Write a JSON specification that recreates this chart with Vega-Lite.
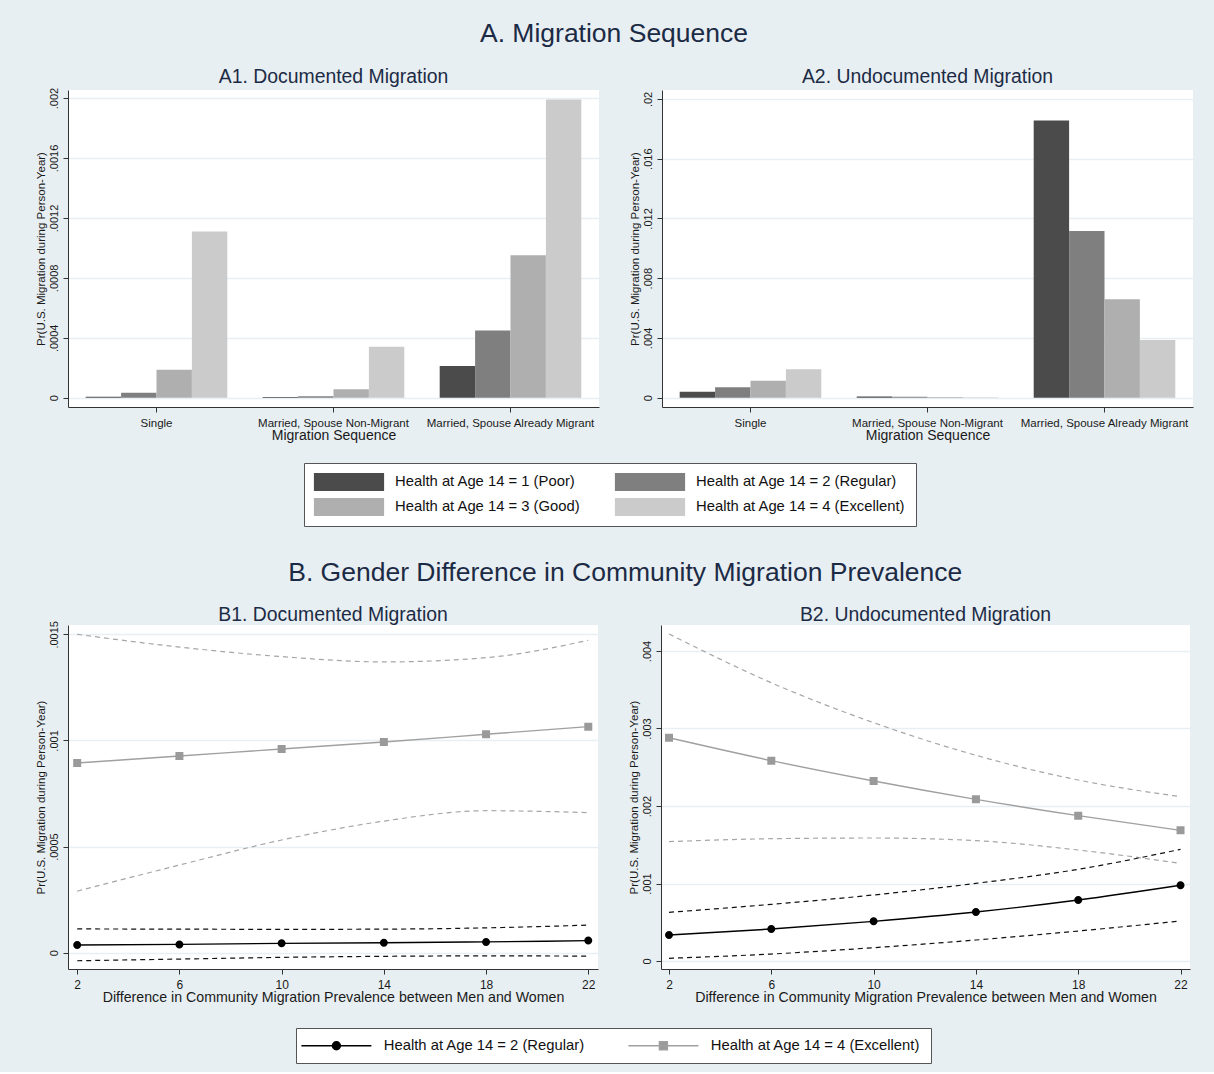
{
  "$schema": "https://vega.github.io/schema/vega-lite/v6.json",
  "autosize": {"type": "pad"},
  "padding": {"left": 34, "top": 21, "right": 18, "bottom": 8},
  "spacing": 33,
  "datasets": {
    "bars": [
      {"panel": "A1", "seq": "Single", "health": "Health at Age 14 = 1 (Poor)", "p": 0.000007},
      {"panel": "A1", "seq": "Single", "health": "Health at Age 14 = 2 (Regular)", "p": 0.000033},
      {"panel": "A1", "seq": "Single", "health": "Health at Age 14 = 3 (Good)", "p": 0.000186},
      {"panel": "A1", "seq": "Single", "health": "Health at Age 14 = 4 (Excellent)", "p": 0.00111},
      {"panel": "A1", "seq": "Married, Spouse Non-Migrant", "health": "Health at Age 14 = 1 (Poor)", "p": 0.000005},
      {"panel": "A1", "seq": "Married, Spouse Non-Migrant", "health": "Health at Age 14 = 2 (Regular)", "p": 0.00001},
      {"panel": "A1", "seq": "Married, Spouse Non-Migrant", "health": "Health at Age 14 = 3 (Good)", "p": 0.000057},
      {"panel": "A1", "seq": "Married, Spouse Non-Migrant", "health": "Health at Age 14 = 4 (Excellent)", "p": 0.000341},
      {"panel": "A1", "seq": "Married, Spouse Already Migrant", "health": "Health at Age 14 = 1 (Poor)", "p": 0.000212},
      {"panel": "A1", "seq": "Married, Spouse Already Migrant", "health": "Health at Age 14 = 2 (Regular)", "p": 0.000449},
      {"panel": "A1", "seq": "Married, Spouse Already Migrant", "health": "Health at Age 14 = 3 (Good)", "p": 0.000951},
      {"panel": "A1", "seq": "Married, Spouse Already Migrant", "health": "Health at Age 14 = 4 (Excellent)", "p": 0.00199},
      {"panel": "A2", "seq": "Single", "health": "Health at Age 14 = 1 (Poor)", "p": 0.0004},
      {"panel": "A2", "seq": "Single", "health": "Health at Age 14 = 2 (Regular)", "p": 0.0007},
      {"panel": "A2", "seq": "Single", "health": "Health at Age 14 = 3 (Good)", "p": 0.00114},
      {"panel": "A2", "seq": "Single", "health": "Health at Age 14 = 4 (Excellent)", "p": 0.0019},
      {"panel": "A2", "seq": "Married, Spouse Non-Migrant", "health": "Health at Age 14 = 1 (Poor)", "p": 0.00008},
      {"panel": "A2", "seq": "Married, Spouse Non-Migrant", "health": "Health at Age 14 = 2 (Regular)", "p": 0.00007},
      {"panel": "A2", "seq": "Married, Spouse Non-Migrant", "health": "Health at Age 14 = 3 (Good)", "p": 0.00004},
      {"panel": "A2", "seq": "Married, Spouse Non-Migrant", "health": "Health at Age 14 = 4 (Excellent)", "p": 0.00003},
      {"panel": "A2", "seq": "Married, Spouse Already Migrant", "health": "Health at Age 14 = 1 (Poor)", "p": 0.01855},
      {"panel": "A2", "seq": "Married, Spouse Already Migrant", "health": "Health at Age 14 = 2 (Regular)", "p": 0.01116},
      {"panel": "A2", "seq": "Married, Spouse Already Migrant", "health": "Health at Age 14 = 3 (Good)", "p": 0.00659},
      {"panel": "A2", "seq": "Married, Spouse Already Migrant", "health": "Health at Age 14 = 4 (Excellent)", "p": 0.00386}
    ],
    "lines": [
      {"panel": "B1", "series": "Health at Age 14 = 2 (Regular)", "bound": "est", "x": 2, "p": 0.000036},
      {"panel": "B1", "series": "Health at Age 14 = 2 (Regular)", "bound": "est", "x": 6, "p": 0.000039},
      {"panel": "B1", "series": "Health at Age 14 = 2 (Regular)", "bound": "est", "x": 10, "p": 0.000044},
      {"panel": "B1", "series": "Health at Age 14 = 2 (Regular)", "bound": "est", "x": 14, "p": 0.000047},
      {"panel": "B1", "series": "Health at Age 14 = 2 (Regular)", "bound": "est", "x": 18, "p": 0.000051},
      {"panel": "B1", "series": "Health at Age 14 = 2 (Regular)", "bound": "est", "x": 22, "p": 0.000057},
      {"panel": "B1", "series": "Health at Age 14 = 2 (Regular)", "bound": "lo", "x": 2, "p": -0.000038},
      {"panel": "B1", "series": "Health at Age 14 = 2 (Regular)", "bound": "lo", "x": 6, "p": -0.00003},
      {"panel": "B1", "series": "Health at Age 14 = 2 (Regular)", "bound": "lo", "x": 10, "p": -0.000022},
      {"panel": "B1", "series": "Health at Age 14 = 2 (Regular)", "bound": "lo", "x": 14, "p": -0.000017},
      {"panel": "B1", "series": "Health at Age 14 = 2 (Regular)", "bound": "lo", "x": 18, "p": -0.000015},
      {"panel": "B1", "series": "Health at Age 14 = 2 (Regular)", "bound": "lo", "x": 22, "p": -0.000016},
      {"panel": "B1", "series": "Health at Age 14 = 2 (Regular)", "bound": "hi", "x": 2, "p": 0.000112},
      {"panel": "B1", "series": "Health at Age 14 = 2 (Regular)", "bound": "hi", "x": 6, "p": 0.000111},
      {"panel": "B1", "series": "Health at Age 14 = 2 (Regular)", "bound": "hi", "x": 10, "p": 0.00011},
      {"panel": "B1", "series": "Health at Age 14 = 2 (Regular)", "bound": "hi", "x": 14, "p": 0.000111},
      {"panel": "B1", "series": "Health at Age 14 = 2 (Regular)", "bound": "hi", "x": 18, "p": 0.000117},
      {"panel": "B1", "series": "Health at Age 14 = 2 (Regular)", "bound": "hi", "x": 22, "p": 0.00013},
      {"panel": "B1", "series": "Health at Age 14 = 4 (Excellent)", "bound": "est", "x": 2, "p": 0.000894},
      {"panel": "B1", "series": "Health at Age 14 = 4 (Excellent)", "bound": "est", "x": 6, "p": 0.000927},
      {"panel": "B1", "series": "Health at Age 14 = 4 (Excellent)", "bound": "est", "x": 10, "p": 0.00096},
      {"panel": "B1", "series": "Health at Age 14 = 4 (Excellent)", "bound": "est", "x": 14, "p": 0.000993},
      {"panel": "B1", "series": "Health at Age 14 = 4 (Excellent)", "bound": "est", "x": 18, "p": 0.001029},
      {"panel": "B1", "series": "Health at Age 14 = 4 (Excellent)", "bound": "est", "x": 22, "p": 0.001065},
      {"panel": "B1", "series": "Health at Age 14 = 4 (Excellent)", "bound": "lo", "x": 2, "p": 0.00029},
      {"panel": "B1", "series": "Health at Age 14 = 4 (Excellent)", "bound": "lo", "x": 6, "p": 0.000413},
      {"panel": "B1", "series": "Health at Age 14 = 4 (Excellent)", "bound": "lo", "x": 10, "p": 0.000531},
      {"panel": "B1", "series": "Health at Age 14 = 4 (Excellent)", "bound": "lo", "x": 14, "p": 0.00062},
      {"panel": "B1", "series": "Health at Age 14 = 4 (Excellent)", "bound": "lo", "x": 18, "p": 0.000669},
      {"panel": "B1", "series": "Health at Age 14 = 4 (Excellent)", "bound": "lo", "x": 22, "p": 0.00066},
      {"panel": "B1", "series": "Health at Age 14 = 4 (Excellent)", "bound": "hi", "x": 2, "p": 0.0015},
      {"panel": "B1", "series": "Health at Age 14 = 4 (Excellent)", "bound": "hi", "x": 6, "p": 0.00144},
      {"panel": "B1", "series": "Health at Age 14 = 4 (Excellent)", "bound": "hi", "x": 10, "p": 0.001395},
      {"panel": "B1", "series": "Health at Age 14 = 4 (Excellent)", "bound": "hi", "x": 14, "p": 0.00137},
      {"panel": "B1", "series": "Health at Age 14 = 4 (Excellent)", "bound": "hi", "x": 18, "p": 0.00139},
      {"panel": "B1", "series": "Health at Age 14 = 4 (Excellent)", "bound": "hi", "x": 22, "p": 0.001472},
      {"panel": "B2", "series": "Health at Age 14 = 2 (Regular)", "bound": "est", "x": 2, "p": 0.000335},
      {"panel": "B2", "series": "Health at Age 14 = 2 (Regular)", "bound": "est", "x": 6, "p": 0.000413},
      {"panel": "B2", "series": "Health at Age 14 = 2 (Regular)", "bound": "est", "x": 10, "p": 0.000512},
      {"panel": "B2", "series": "Health at Age 14 = 2 (Regular)", "bound": "est", "x": 14, "p": 0.000632},
      {"panel": "B2", "series": "Health at Age 14 = 2 (Regular)", "bound": "est", "x": 18, "p": 0.000787},
      {"panel": "B2", "series": "Health at Age 14 = 2 (Regular)", "bound": "est", "x": 22, "p": 0.000977},
      {"panel": "B2", "series": "Health at Age 14 = 2 (Regular)", "bound": "lo", "x": 2, "p": 0.000035},
      {"panel": "B2", "series": "Health at Age 14 = 2 (Regular)", "bound": "lo", "x": 6, "p": 0.00009},
      {"panel": "B2", "series": "Health at Age 14 = 2 (Regular)", "bound": "lo", "x": 10, "p": 0.000172},
      {"panel": "B2", "series": "Health at Age 14 = 2 (Regular)", "bound": "lo", "x": 14, "p": 0.000271},
      {"panel": "B2", "series": "Health at Age 14 = 2 (Regular)", "bound": "lo", "x": 18, "p": 0.000387},
      {"panel": "B2", "series": "Health at Age 14 = 2 (Regular)", "bound": "lo", "x": 22, "p": 0.000516},
      {"panel": "B2", "series": "Health at Age 14 = 2 (Regular)", "bound": "hi", "x": 2, "p": 0.000628},
      {"panel": "B2", "series": "Health at Age 14 = 2 (Regular)", "bound": "hi", "x": 6, "p": 0.000731},
      {"panel": "B2", "series": "Health at Age 14 = 2 (Regular)", "bound": "hi", "x": 10, "p": 0.000852},
      {"panel": "B2", "series": "Health at Age 14 = 2 (Regular)", "bound": "hi", "x": 14, "p": 0.001002},
      {"panel": "B2", "series": "Health at Age 14 = 2 (Regular)", "bound": "hi", "x": 18, "p": 0.001183},
      {"panel": "B2", "series": "Health at Age 14 = 2 (Regular)", "bound": "hi", "x": 22, "p": 0.001441},
      {"panel": "B2", "series": "Health at Age 14 = 4 (Excellent)", "bound": "est", "x": 2, "p": 0.00288},
      {"panel": "B2", "series": "Health at Age 14 = 4 (Excellent)", "bound": "est", "x": 6, "p": 0.002585},
      {"panel": "B2", "series": "Health at Age 14 = 4 (Excellent)", "bound": "est", "x": 10, "p": 0.002323},
      {"panel": "B2", "series": "Health at Age 14 = 4 (Excellent)", "bound": "est", "x": 14, "p": 0.002086},
      {"panel": "B2", "series": "Health at Age 14 = 4 (Excellent)", "bound": "est", "x": 18, "p": 0.001875},
      {"panel": "B2", "series": "Health at Age 14 = 4 (Excellent)", "bound": "est", "x": 22, "p": 0.001686},
      {"panel": "B2", "series": "Health at Age 14 = 4 (Excellent)", "bound": "lo", "x": 2, "p": 0.00154},
      {"panel": "B2", "series": "Health at Age 14 = 4 (Excellent)", "bound": "lo", "x": 6, "p": 0.001578},
      {"panel": "B2", "series": "Health at Age 14 = 4 (Excellent)", "bound": "lo", "x": 10, "p": 0.001587},
      {"panel": "B2", "series": "Health at Age 14 = 4 (Excellent)", "bound": "lo", "x": 14, "p": 0.001553},
      {"panel": "B2", "series": "Health at Age 14 = 4 (Excellent)", "bound": "lo", "x": 18, "p": 0.001432},
      {"panel": "B2", "series": "Health at Age 14 = 4 (Excellent)", "bound": "lo", "x": 22, "p": 0.00126},
      {"panel": "B2", "series": "Health at Age 14 = 4 (Excellent)", "bound": "hi", "x": 2, "p": 0.00422},
      {"panel": "B2", "series": "Health at Age 14 = 4 (Excellent)", "bound": "hi", "x": 6, "p": 0.00359},
      {"panel": "B2", "series": "Health at Age 14 = 4 (Excellent)", "bound": "hi", "x": 10, "p": 0.003075},
      {"panel": "B2", "series": "Health at Age 14 = 4 (Excellent)", "bound": "hi", "x": 14, "p": 0.002654},
      {"panel": "B2", "series": "Health at Age 14 = 4 (Excellent)", "bound": "hi", "x": 18, "p": 0.002335},
      {"panel": "B2", "series": "Health at Age 14 = 4 (Excellent)", "bound": "hi", "x": 22, "p": 0.00212}
    ]
  },
  "resolve": {"scale": {"x": "independent", "y": "independent"}},
  "vconcat": [
    {
      "title": {"text": "A. Migration Sequence", "fontSize": 26.5, "offset": 19},
      "bounds": "flush",
      "spacing": 63,
      "resolve": {"scale": {"x": "independent", "y": "independent"}, "legend": {"color": "independent"}},
      "hconcat": [
        {
          "width": 531,
          "height": 317,
          "title": {"text": "A1. Documented Migration", "fontSize": 19.4, "offset": 0},
          "data": {"name": "bars"},
          "transform": [{"filter": "datum.panel == 'A1'"}],
          "mark": {"type": "bar"},
          "encoding": {
            "x": {
              "field": "seq", "type": "nominal",
              "sort": ["Single", "Married, Spouse Non-Migrant", "Married, Spouse Already Migrant"],
              "scale": {"paddingInner": 0.2, "paddingOuter": 0.1},
              "axis": {"title": "Migration Sequence", "labelAngle": 0, "labelFontSize": 11.5, "titleFontSize": 14, "titlePadding": 0, "labelPadding": 5, "grid": false}
            },
            "xOffset": {
              "field": "health", "type": "nominal",
              "sort": ["Health at Age 14 = 1 (Poor)", "Health at Age 14 = 2 (Regular)", "Health at Age 14 = 3 (Good)", "Health at Age 14 = 4 (Excellent)"],
              "scale": {"paddingInner": 0, "paddingOuter": 0}
            },
            "y": {
              "field": "p", "type": "quantitative", "stack": null,
              "scale": {"domain": [-0.000062, 0.002054], "nice": false, "zero": false},
              "axis": {"title": "Pr(U.S. Migration during Person-Year)", "values": [0, 0.0004, 0.0008, 0.0012, 0.0016, 0.002], "labelExpr": "datum.value == 0 ? '0' : replace(toString(datum.value), '0.', '.')"}
            },
            "color": {
              "field": "health", "type": "nominal",
              "scale": {"domain": ["Health at Age 14 = 1 (Poor)", "Health at Age 14 = 2 (Regular)", "Health at Age 14 = 3 (Good)", "Health at Age 14 = 4 (Excellent)"], "range": ["#4b4b4b", "#7f7f7f", "#afafaf", "#cbcbcb"]},
              "legend": {
                "orient": "none", "legendX": 236, "legendY": 373, "title": null, "columns": 2, "direction": "horizontal",
                "fillColor": "white", "strokeColor": "#555555", "padding": 10,
                "symbolType": "M-3.9,-1H3.9V1H-3.9Z", "symbolSize": 324, "symbolStrokeWidth": 0, "symbolOpacity": 1,
                "symbolOffset": 26, "labelOffset": 37, "labelFontSize": 14.8, "labelColor": "#111111",
                "rowPadding": 7, "columnPadding": 33, "labelLimit": 400
              }
            }
          }
        },
        {
          "width": 531,
          "height": 317,
          "title": {"text": "A2. Undocumented Migration", "fontSize": 19.4, "offset": 3},
          "data": {"name": "bars"},
          "transform": [{"filter": "datum.panel == 'A2'"}],
          "mark": {"type": "bar"},
          "encoding": {
            "x": {
              "field": "seq", "type": "nominal",
              "sort": ["Single", "Married, Spouse Non-Migrant", "Married, Spouse Already Migrant"],
              "scale": {"paddingInner": 0.2, "paddingOuter": 0.1},
              "axis": {"title": "Migration Sequence", "labelAngle": 0, "labelFontSize": 11.5, "titleFontSize": 14, "titlePadding": 0, "labelPadding": 5, "grid": false}
            },
            "xOffset": {
              "field": "health", "type": "nominal",
              "sort": ["Health at Age 14 = 1 (Poor)", "Health at Age 14 = 2 (Regular)", "Health at Age 14 = 3 (Good)", "Health at Age 14 = 4 (Excellent)"],
              "scale": {"paddingInner": 0, "paddingOuter": 0}
            },
            "y": {
              "field": "p", "type": "quantitative", "stack": null,
              "scale": {"domain": [-0.000623, 0.0206], "nice": false, "zero": false},
              "axis": {"title": "Pr(U.S. Migration during Person-Year)", "values": [0, 0.004, 0.008, 0.012, 0.016, 0.02], "labelExpr": "datum.value == 0 ? '0' : replace(toString(datum.value), '0.', '.')"}
            },
            "color": {
              "field": "health", "type": "nominal",
              "scale": {"domain": ["Health at Age 14 = 1 (Poor)", "Health at Age 14 = 2 (Regular)", "Health at Age 14 = 3 (Good)", "Health at Age 14 = 4 (Excellent)"], "range": ["#4b4b4b", "#7f7f7f", "#afafaf", "#cbcbcb"]},
              "legend": null
            }
          }
        }
      ]
    },
    {
      "title": {"text": "B. Gender Difference in Community Migration Prevalence", "fontSize": 26.5, "offset": 18},
      "bounds": "flush",
      "spacing": 63,
      "resolve": {"scale": {"x": "independent", "y": "independent"}, "legend": {"stroke": "independent", "fill": "independent", "shape": "independent"}},
      "hconcat": [
        {
          "width": 530,
          "height": 344,
          "title": {"text": "B1. Documented Migration", "fontSize": 19.4, "offset": -5},
          "data": {"name": "lines"},
          "transform": [{"filter": "datum.panel == 'B1'"}],
          "encoding": {
            "x": {
              "field": "x", "type": "quantitative",
              "scale": {"domain": [1.64, 22.38], "nice": false, "zero": false},
              "axis": {"title": "Difference in Community Migration Prevalence between Men and Women", "values": [2, 6, 10, 14, 18, 22], "labelFontSize": 12, "titleFontSize": 14.2, "titlePadding": 0, "labelPadding": 5, "grid": false}
            },
            "y": {
              "field": "p", "type": "quantitative",
              "scale": {"domain": [-0.0000768, 0.001544], "nice": false, "zero": false},
              "axis": {"title": "Pr(U.S. Migration during Person-Year)", "values": [0, 0.0005, 0.001, 0.0015], "labelExpr": "datum.value == 0 ? '0' : replace(toString(datum.value), '0.', '.')"}
            }
          },
          "layer": [
            {
              "transform": [{"filter": "datum.series == 'Health at Age 14 = 4 (Excellent)' && datum.bound != 'est'"}],
              "mark": {"type": "line", "interpolate": "monotone", "color": "#a6a6a6", "strokeWidth": 1.2, "strokeDash": [5, 4]},
              "encoding": {"detail": {"field": "bound"}}
            },
            {
              "transform": [{"filter": "datum.series == 'Health at Age 14 = 2 (Regular)' && datum.bound != 'est'"}],
              "mark": {"type": "line", "interpolate": "monotone", "color": "#111111", "strokeWidth": 1.2, "strokeDash": [5, 4]},
              "encoding": {"detail": {"field": "bound"}}
            },
            {
              "transform": [{"filter": "datum.bound == 'est'"}],
              "mark": {"type": "line", "interpolate": "monotone", "strokeWidth": 1.4},
              "encoding": {
                "stroke": {
                  "field": "series", "type": "nominal",
                  "scale": {"domain": ["Health at Age 14 = 2 (Regular)", "Health at Age 14 = 4 (Excellent)"], "range": ["#000000", "#a0a0a0"]},
                  "legend": {
                    "orient": "none", "legendX": 228, "legendY": 403, "title": null, "columns": 2, "direction": "horizontal",
                    "fillColor": "white", "strokeColor": "#555555", "padding": 10,
                    "symbolSize": 64, "symbolStrokeWidth": 1.4, "symbolOffset": 23, "labelOffset": 40,
                    "labelFontSize": 14.8, "labelColor": "#111111", "columnPadding": 40, "labelLimit": 400
                  }
                }
              }
            },
            {
              "transform": [{"filter": "datum.bound == 'est'"}],
              "mark": {"type": "point", "filled": true, "size": 64, "opacity": 1},
              "encoding": {
                "fill": {
                  "field": "series", "type": "nominal",
                  "scale": {"domain": ["Health at Age 14 = 2 (Regular)", "Health at Age 14 = 4 (Excellent)"], "range": ["#000000", "#9a9a9a"]},
                  "legend": {
                    "orient": "none", "legendX": 228, "legendY": 403, "title": null, "columns": 2, "direction": "horizontal",
                    "fillColor": "white", "strokeColor": "#555555", "padding": 10,
                    "symbolSize": 64, "symbolStrokeWidth": 1.4, "symbolOffset": 23, "labelOffset": 40,
                    "labelFontSize": 14.8, "labelColor": "#111111", "columnPadding": 40, "labelLimit": 400
                  }
                },
                "shape": {
                  "field": "series", "type": "nominal",
                  "scale": {"domain": ["Health at Age 14 = 2 (Regular)", "Health at Age 14 = 4 (Excellent)"], "range": ["M-8.75,0H8.75M-1,0A1,1 0 1,1 1,0A1,1 0 1,1 -1,0Z", "M-8.75,0H8.75M-1,-1H1V1H-1Z"]},
                  "legend": {
                    "orient": "none", "legendX": 228, "legendY": 403, "title": null, "columns": 2, "direction": "horizontal",
                    "fillColor": "white", "strokeColor": "#555555", "padding": 10,
                    "symbolSize": 64, "symbolStrokeWidth": 1.4, "symbolOffset": 23, "labelOffset": 40,
                    "labelFontSize": 14.8, "labelColor": "#111111", "columnPadding": 40, "labelLimit": 400
                  }
                }
              }
            }
          ]
        },
        {
          "width": 529,
          "height": 344,
          "title": {"text": "B2. Undocumented Migration", "fontSize": 19.4, "offset": 0},
          "data": {"name": "lines"},
          "transform": [{"filter": "datum.panel == 'B2'"}],
          "encoding": {
            "x": {
              "field": "x", "type": "quantitative",
              "scale": {"domain": [1.687, 22.37], "nice": false, "zero": false},
              "axis": {"title": "Difference in Community Migration Prevalence between Men and Women", "values": [2, 6, 10, 14, 18, 22], "labelFontSize": 12, "titleFontSize": 14.2, "titlePadding": 0, "labelPadding": 5, "grid": false}
            },
            "y": {
              "field": "p", "type": "quantitative",
              "scale": {"domain": [-0.000103, 0.004335], "nice": false, "zero": false},
              "axis": {"title": "Pr(U.S. Migration during Person-Year)", "values": [0, 0.001, 0.002, 0.003, 0.004], "labelExpr": "datum.value == 0 ? '0' : replace(toString(datum.value), '0.', '.')"}
            }
          },
          "layer": [
            {
              "transform": [{"filter": "datum.series == 'Health at Age 14 = 4 (Excellent)' && datum.bound != 'est'"}],
              "mark": {"type": "line", "interpolate": "monotone", "color": "#a6a6a6", "strokeWidth": 1.2, "strokeDash": [5, 4]},
              "encoding": {"detail": {"field": "bound"}}
            },
            {
              "transform": [{"filter": "datum.series == 'Health at Age 14 = 2 (Regular)' && datum.bound != 'est'"}],
              "mark": {"type": "line", "interpolate": "monotone", "color": "#111111", "strokeWidth": 1.2, "strokeDash": [5, 4]},
              "encoding": {"detail": {"field": "bound"}}
            },
            {
              "transform": [{"filter": "datum.bound == 'est'"}],
              "mark": {"type": "line", "interpolate": "monotone", "strokeWidth": 1.4},
              "encoding": {
                "stroke": {"field": "series", "type": "nominal", "scale": {"domain": ["Health at Age 14 = 2 (Regular)", "Health at Age 14 = 4 (Excellent)"], "range": ["#000000", "#a0a0a0"]}, "legend": null}
              }
            },
            {
              "transform": [{"filter": "datum.bound == 'est'"}],
              "mark": {"type": "point", "filled": true, "size": 64, "opacity": 1},
              "encoding": {
                "fill": {"field": "series", "type": "nominal", "scale": {"domain": ["Health at Age 14 = 2 (Regular)", "Health at Age 14 = 4 (Excellent)"], "range": ["#000000", "#9a9a9a"]}, "legend": null},
                "shape": {"field": "series", "type": "nominal", "scale": {"domain": ["Health at Age 14 = 2 (Regular)", "Health at Age 14 = 4 (Excellent)"], "range": ["M-8.75,0H8.75M-1,0A1,1 0 1,1 1,0A1,1 0 1,1 -1,0Z", "M-8.75,0H8.75M-1,-1H1V1H-1Z"]}, "legend": null}
              }
            }
          ]
        }
      ]
    }
  ],
  "config": {
    "background": "#e8eff2",
    "font": "Liberation Sans",
    "view": {"fill": "white", "stroke": null},
    "axis": {
      "domainColor": "#333333", "tickColor": "#333333", "tickSize": 5, "labelColor": "#1a1a1a", "titleColor": "#1a1a1a",
      "labelFont": "Liberation Sans", "titleFont": "Liberation Sans", "titleFontWeight": "normal",
      "gridColor": "#e8eff2", "gridWidth": 1.5
    },
    "axisY": {"labelAngle": 270, "labelAlign": "center", "labelBaseline": "bottom", "labelFontSize": 11, "labelPadding": 4, "titleFontSize": 11.5, "titlePadding": 2},
    "title": {"color": "#1c2b45", "font": "Liberation Sans", "fontWeight": "normal", "anchor": "middle"},
    "legend": {"labelFont": "Liberation Sans"}
  }
}
